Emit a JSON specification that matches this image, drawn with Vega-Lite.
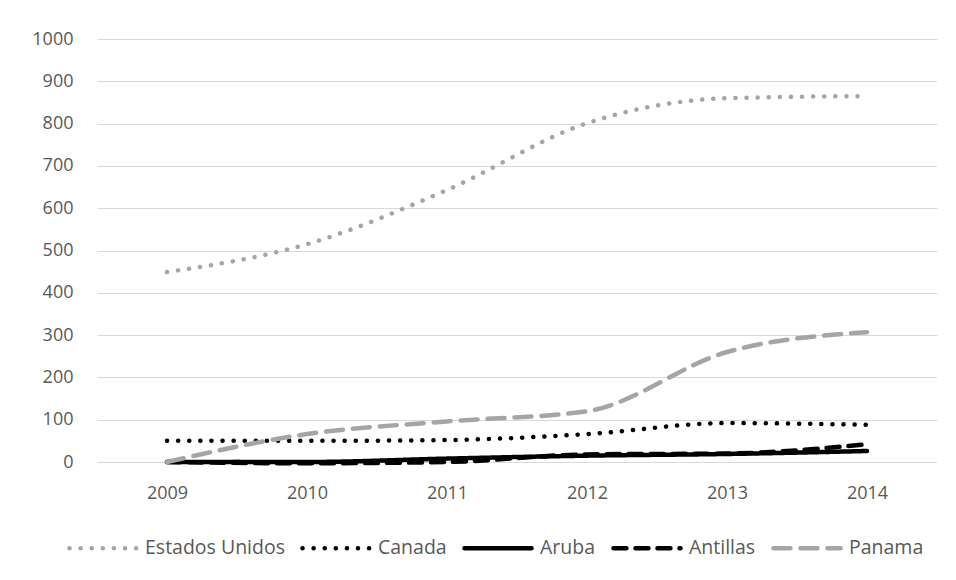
{
  "$schema": "https://vega.github.io/schema/vega-lite/v6.json",
  "width": 840,
  "height": 423,
  "autosize": "none",
  "padding": {"left": 97, "top": 39, "right": 19, "bottom": 118},
  "background": "white",
  "config": {
    "view": {"stroke": null},
    "font": "Open Sans",
    "axis": {"labelFont": "Open Sans", "labelFontSize": 18, "labelColor": "#595959", "ticks": false, "domain": false, "title": null},
    "legend": {"labelFont": "Open Sans", "labelFontSize": 19.5, "labelColor": "#595959"}
  },
  "data": {
    "values": [
      {"year": "2009", "series": "Estados Unidos", "value": 449},
      {"year": "2010", "series": "Estados Unidos", "value": 515},
      {"year": "2011", "series": "Estados Unidos", "value": 643},
      {"year": "2012", "series": "Estados Unidos", "value": 801},
      {"year": "2013", "series": "Estados Unidos", "value": 860},
      {"year": "2014", "series": "Estados Unidos", "value": 865},
      {"year": "2009", "series": "Canada", "value": 50},
      {"year": "2010", "series": "Canada", "value": 50},
      {"year": "2011", "series": "Canada", "value": 52},
      {"year": "2012", "series": "Canada", "value": 66},
      {"year": "2013", "series": "Canada", "value": 92},
      {"year": "2014", "series": "Canada", "value": 88},
      {"year": "2009", "series": "Aruba", "value": 0},
      {"year": "2010", "series": "Aruba", "value": 0},
      {"year": "2011", "series": "Aruba", "value": 8},
      {"year": "2012", "series": "Aruba", "value": 15},
      {"year": "2013", "series": "Aruba", "value": 19},
      {"year": "2014", "series": "Aruba", "value": 26},
      {"year": "2009", "series": "Antillas", "value": 0},
      {"year": "2010", "series": "Antillas", "value": -3},
      {"year": "2011", "series": "Antillas", "value": 0},
      {"year": "2012", "series": "Antillas", "value": 18},
      {"year": "2013", "series": "Antillas", "value": 20},
      {"year": "2014", "series": "Antillas", "value": 42},
      {"year": "2009", "series": "Panama", "value": 0},
      {"year": "2010", "series": "Panama", "value": 66},
      {"year": "2011", "series": "Panama", "value": 96},
      {"year": "2012", "series": "Panama", "value": 120},
      {"year": "2013", "series": "Panama", "value": 260},
      {"year": "2014", "series": "Panama", "value": 307}
    ]
  },
  "mark": {"type": "line", "interpolate": "monotone", "strokeCap": "round"},
  "encoding": {
    "x": {
      "field": "year", "type": "ordinal",
      "scale": {"type": "point", "padding": 0.5},
      "axis": {"labelAngle": 0, "labelPadding": 22, "grid": false}
    },
    "y": {
      "field": "value", "type": "quantitative",
      "scale": {"domain": [0, 1000], "clamp": false, "nice": false},
      "axis": {"values": [0,100,200,300,400,500,600,700,800,900,1000], "format": "d", "gridColor": "#d9d9d9", "gridWidth": 1, "labelPadding": 24}
    },
    "color": {
      "field": "series", "type": "nominal",
      "scale": {"domain": ["Estados Unidos", "Canada", "Aruba", "Antillas", "Panama"], "range": ["#a5a5a5", "#000000", "#000000", "#000000", "#a5a5a5"]},
      "legend": {"title": null, "orient": "none", "legendX": -30, "legendY": 473, "direction": "horizontal", "symbolType": "stroke", "symbolSize": 4500, "symbolStrokeWidth": 4.5, "labelOffset": 6, "columnPadding": 8,
        "encode": {"symbols": {"update": {"strokeCap": {"value": "round"}}}}}
    },
    "strokeDash": {
      "field": "series", "type": "nominal",
      "scale": {"domain": ["Estados Unidos", "Canada", "Aruba", "Antillas", "Panama"], "range": [[0.1, 11], [0.1, 11], [1, 0], [13, 9], [17, 10]]},
      "legend": {"title": null}
    },
    "strokeWidth": {
      "field": "series", "type": "nominal",
      "scale": {"domain": ["Estados Unidos", "Canada", "Aruba", "Antillas", "Panama"], "range": [4.5, 4.5, 5, 4.5, 5]},
      "legend": {"title": null}
    }
  }
}
